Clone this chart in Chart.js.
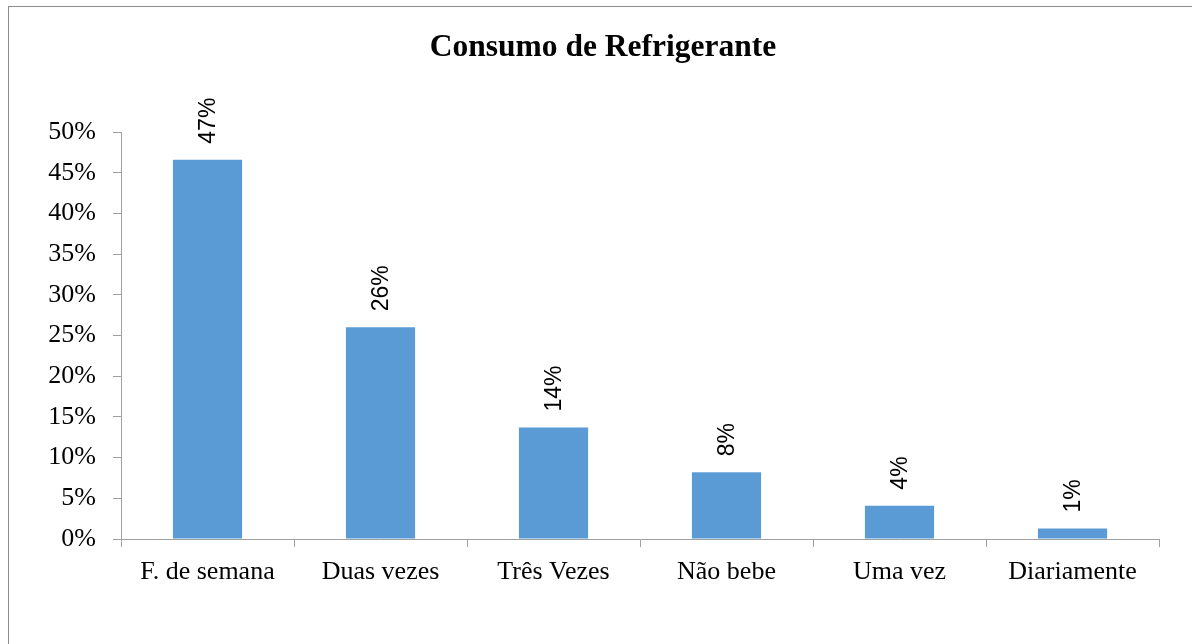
<!DOCTYPE html>
<html>
<head>
<meta charset="utf-8">
<script src="https://cdn.jsdelivr.net/npm/chart.js@4"></script>
<style>
  html, body { margin: 0; padding: 0; background: #fff; overflow: hidden; }
  #wrap { position: relative; width: 1192px; height: 644px; }
  #frame { position: absolute; left: 8px; top: 6px; width: 1300px; height: 700px;
           border-top: 1px solid #8c8c8c; border-left: 1px solid #8c8c8c; }
  #titulo { position: absolute; left: 0; top: 28px; width: 1206px; text-align: center;
            font: bold 31.5px "Liberation Serif", "Times New Roman", serif; color: #000; }
  #cv { position: absolute; left: 0; top: 0; }
</style>
</head>
<body>
<div id="wrap">
  <div id="frame"></div>
  <canvas id="cv" width="1192" height="644"></canvas>
  <div id="titulo">Consumo de Refrigerante</div>
</div>
<script>
// dados do gráfico
var categorias = ['F. de semana', 'Duas vezes', 'Três Vezes', 'Não bebe', 'Uma vez', 'Diariamente'];
var valores = [46.6, 26.0, 13.7, 8.2, 4.1, 1.3];
var ticksY = [0, 5, 10, 15, 20, 25, 30, 35, 40, 45, 50];

// rótulos verticais acima das barras
var rotulosBarras = {
    id: 'rotulosBarras',
    afterDatasetsDraw: function(chart) {
        var ctx = chart.ctx;
        var meta = chart.getDatasetMeta(0);
        ctx.save();
        ctx.font = '23px "Liberation Sans", Arial, sans-serif';
        ctx.fillStyle = '#000';
        ctx.textAlign = 'left';
        ctx.textBaseline = 'middle';
        meta.data.forEach(function(bar, i) {
            ctx.save();
            ctx.translate(bar.x + 1, bar.y - 16);
            ctx.rotate(-Math.PI / 2);
            ctx.fillText(Math.round(valores[i]) + '%', 0, 0);
            ctx.restore();
        });
        ctx.restore();
    }
};

var ctx = document.getElementById('cv').getContext('2d');
var grafico = new Chart(ctx, {
    type: 'bar',
    data: {
        labels: categorias,
        datasets: [{
            label: 'Consumo',
            data: valores,
            backgroundColor: '#5b9bd5',
            borderWidth: 0,
            barPercentage: 0.4,
            categoryPercentage: 1.0
        }]
    },
    options: {
        responsive: false,
        animation: false,
        layout: { padding: { top: 132, left: 0, right: 33, bottom: 0 } },
        plugins: {
            legend: { display: false },
            tooltip: { enabled: false },
            title: { display: false }
        },
        scales: {
            x: {
                grid: { display: true, drawOnChartArea: false, offset: true, color: '#a0a0a0', tickLength: 8 },
                border: { display: true, color: '#a0a0a0', width: 1 },
                ticks: {
                    color: '#000',
                    padding: 10,
                    maxRotation: 0,
                    font: { family: '"Liberation Serif", "Times New Roman", serif', size: 26 }
                },
                afterFit: function(s) { s.height = 105; }
            },
            y: {
                min: 0,
                max: 50,
                afterBuildTicks: function(s) { s.ticks = ticksY.map(function(v) { return { value: v }; }); },
                grid: { display: true, drawOnChartArea: false, color: '#a0a0a0', tickLength: 8 },
                border: { display: true, color: '#a0a0a0', width: 1 },
                ticks: {
                    color: '#000',
                    padding: 17,
                    font: { family: '"Liberation Serif", "Times New Roman", serif', size: 26 },
                    callback: function(v) { return v + '%'; }
                },
                afterFit: function(s) { s.width = 121; }
            }
        }
    },
    plugins: [rotulosBarras]
});
</script>
</body>
</html>
